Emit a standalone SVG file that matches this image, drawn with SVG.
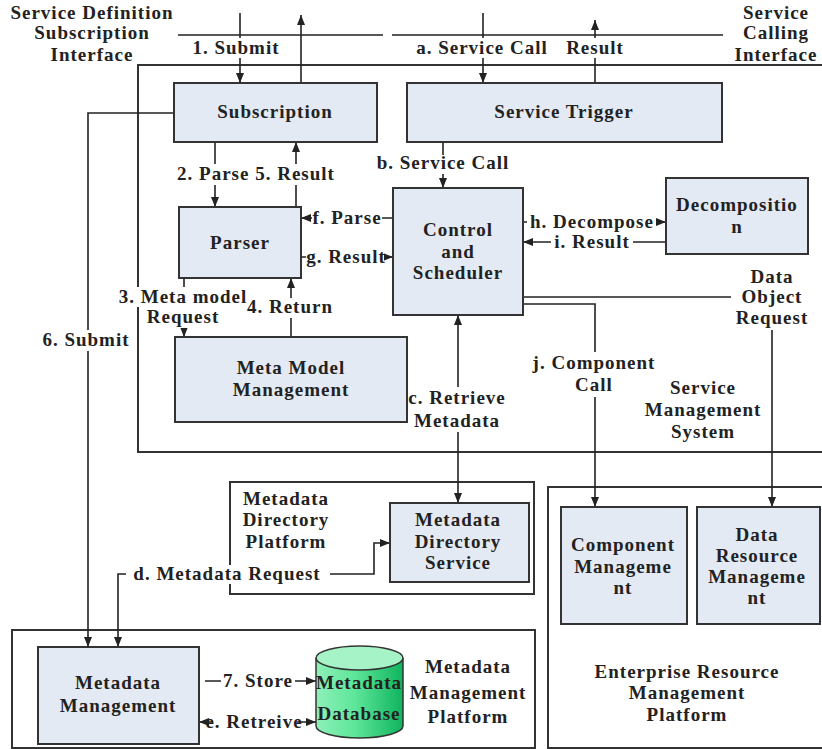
<svg xmlns="http://www.w3.org/2000/svg" width="822" height="749" viewBox="0 0 822 749">
<style>
.t{font-family:'Liberation Serif','Times New Roman',Times,serif;font-weight:700;font-size:19px;letter-spacing:1px;fill:#222;text-anchor:middle}
.n{fill:#e4eaf4;stroke:#333;stroke-width:2}
.box{fill:none;stroke:#333;stroke-width:2}
.c{fill:none;stroke:#222;stroke-width:1.6}
.bg{fill:#fff}
</style>
<defs>
<marker id="a" viewBox="0 0 10 8" refX="10" refY="4" markerWidth="10" markerHeight="8" markerUnits="userSpaceOnUse" orient="auto-start-reverse">
<path d="M0,0 L10,4 L0,8 z" fill="#222"/>
</marker>
<linearGradient id="g" x1="0" y1="0" x2="1" y2="0">
<stop offset="0" stop-color="#8ef0b8"/>
<stop offset="0.45" stop-color="#5ee69a"/>
<stop offset="1" stop-color="#0fb45e"/>
</linearGradient>
</defs>
<rect width="822" height="749" fill="#fff"/>

<g id="containers">
<path class="box" d="M823,65 H138 V452 H823"/>
<rect class="box" x="230" y="482" width="304" height="112"/>
<path class="box" d="M823,487 H548 V748 H823"/>
<rect class="box" x="12" y="630" width="523" height="118"/>
<path class="c" d="M178,35 H383 M392,35 H723"/>
</g>

<g id="connectors">
<path class="c" d="M240,13 V83" marker-end="url(#a)"/>
<path class="c" d="M301,83 V15" marker-end="url(#a)"/>
<path class="c" d="M483,13 V83" marker-end="url(#a)"/>
<path class="c" d="M595,83 V20" marker-end="url(#a)"/>
<path class="c" d="M215,142 V207" marker-end="url(#a)"/>
<path class="c" d="M296,207 V142" marker-end="url(#a)"/>
<path class="c" d="M443,142 V188" marker-end="url(#a)"/>
<path class="c" d="M393,218 H301" marker-end="url(#a)"/>
<path class="c" d="M301,257 H393" marker-end="url(#a)"/>
<path class="c" d="M523,222 H666" marker-end="url(#a)"/>
<path class="c" d="M666,242 H523" marker-end="url(#a)"/>
<path class="c" d="M184,278 V337" marker-end="url(#a)"/>
<path class="c" d="M291,337 V278" marker-end="url(#a)"/>
<path class="c" d="M174,113 H88 V647" marker-end="url(#a)"/>
<path class="c" d="M118,647 V574 H374 V543 H390" marker-start="url(#a)" marker-end="url(#a)"/>
<path class="c" d="M458,315 V503" marker-start="url(#a)" marker-end="url(#a)"/>
<path class="c" d="M523,304 H595 V507" marker-end="url(#a)"/>
<path class="c" d="M523,297 H772 V507" marker-end="url(#a)"/>
<path class="c" d="M205,681 H316" marker-end="url(#a)"/>
<path class="c" d="M199,722 H316" marker-start="url(#a)" marker-end="url(#a)"/>
</g>

<g id="label-bg">
<rect class="bg" x="186" y="38" width="100" height="20"/>
<rect class="bg" x="415" y="38" width="135" height="20"/>
<rect class="bg" x="565" y="38" width="61" height="20"/>
<rect class="bg" x="176" y="164" width="161" height="21"/>
<rect class="bg" x="375" y="155" width="136" height="19"/>
<rect class="bg" x="312" y="209" width="70" height="19"/>
<rect class="bg" x="306" y="248" width="78" height="19"/>
<rect class="bg" x="527" y="212" width="129" height="19"/>
<rect class="bg" x="551" y="233" width="82" height="19"/>
<rect class="bg" x="731" y="265" width="82" height="65"/>
<rect class="bg" x="116" y="287" width="134" height="20"/>
<rect class="bg" x="145" y="307" width="77" height="21"/>
<rect class="bg" x="246" y="298" width="89" height="20"/>
<rect class="bg" x="41" y="330" width="91" height="21"/>
<rect class="bg" x="528" y="352" width="133" height="22"/>
<rect class="bg" x="572" y="374" width="46" height="23"/>
<rect class="bg" x="406" y="387" width="103" height="22"/>
<rect class="bg" x="415" y="409" width="86" height="23"/>
<rect class="bg" x="126" y="565" width="204" height="19"/>
<rect class="bg" x="221" y="672" width="74" height="19"/>
<rect class="bg" x="211" y="713" width="86" height="19"/>
</g>

<g id="labels" class="t">
<text x="92" y="19">Service Definition</text>
<text x="92" y="39">Subscription</text>
<text x="92" y="61">Interface</text>
<text x="776" y="19">Service</text>
<text x="776" y="39">Calling</text>
<text x="776" y="61">Interface</text>
<text x="236" y="54">1. Submit</text>
<text x="482" y="54">a. Service Call</text>
<text x="595" y="54">Result</text>
<text x="256" y="180">2. Parse 5. Result</text>
<text x="443" y="169">b. Service Call</text>
<text x="347" y="224">f. Parse</text>
<text x="346" y="263">g. Result</text>
<text x="592" y="228">h. Decompose</text>
<text x="592" y="248">i. Result</text>
<text x="772" y="283">Data</text>
<text x="772" y="303">Object</text>
<text x="772" y="324">Request</text>
<text x="183" y="303">3. Meta model</text>
<text x="183" y="323">Request</text>
<text x="290" y="313">4. Return</text>
<text x="86" y="346">6. Submit</text>
<text x="594" y="369">j. Component</text>
<text x="594" y="391">Call</text>
<text x="457" y="404">c. Retrieve</text>
<text x="457" y="427">Metadata</text>
<text x="703" y="394">Service</text>
<text x="703" y="416">Management</text>
<text x="703" y="438">System</text>
<text x="286" y="505">Metadata</text>
<text x="286" y="526">Directory</text>
<text x="286" y="548">Platform</text>
<text x="227" y="580">d. Metadata Request</text>
<text x="687" y="678">Enterprise Resource</text>
<text x="687" y="699">Management</text>
<text x="687" y="721">Platform</text>
<text x="258" y="687">7. Store</text>
<text x="254" y="728">e. Retreive</text>
<text x="468" y="673">Metadata</text>
<text x="468" y="699">Management</text>
<text x="468" y="723">Platform</text>
</g>

<g id="subscription">
<rect class="n" x="174" y="83" width="203" height="59"/>
<text class="t" x="275" y="118">Subscription</text>
</g>
<g id="service-trigger">
<rect class="n" x="407" y="83" width="315" height="59"/>
<text class="t" x="564" y="118">Service Trigger</text>
</g>
<g id="parser">
<rect class="n" x="179" y="207" width="122" height="71"/>
<text class="t" x="240" y="249">Parser</text>
</g>
<g id="control-scheduler">
<rect class="n" x="393" y="188" width="130" height="127"/>
<text class="t" x="458" y="236">Control</text>
<text class="t" x="458" y="258">and</text>
<text class="t" x="458" y="279">Scheduler</text>
</g>
<g id="decomposition">
<rect class="n" x="666" y="178" width="142" height="76"/>
<text class="t" x="737" y="211">Decompositio</text>
<text class="t" x="737" y="233">n</text>
</g>
<g id="meta-model-management">
<rect class="n" x="175" y="337" width="232" height="85"/>
<text class="t" x="291" y="374">Meta Model</text>
<text class="t" x="291" y="396">Management</text>
</g>
<g id="metadata-directory-service">
<rect class="n" x="390" y="503" width="139" height="79"/>
<text class="t" x="458" y="526">Metadata</text>
<text class="t" x="458" y="548">Directory</text>
<text class="t" x="458" y="569">Service</text>
</g>
<g id="component-management">
<rect class="n" x="561" y="507" width="126" height="117"/>
<text class="t" x="623" y="551">Component</text>
<text class="t" x="623" y="573">Manageme</text>
<text class="t" x="623" y="594">nt</text>
</g>
<g id="data-resource-management">
<rect class="n" x="697" y="507" width="123" height="117"/>
<text class="t" x="757" y="541">Data</text>
<text class="t" x="757" y="562">Resource</text>
<text class="t" x="757" y="583">Manageme</text>
<text class="t" x="757" y="604">nt</text>
</g>
<g id="metadata-management">
<rect class="n" x="38" y="647" width="161" height="97"/>
<text class="t" x="118" y="689">Metadata</text>
<text class="t" x="118" y="712">Management</text>
</g>
<g id="metadata-database">
<path d="M316,658 V726 A43.5,12 0 0 0 403,726 V658" fill="url(#g)" stroke="#333" stroke-width="1.5"/>
<ellipse cx="359.5" cy="658" rx="43.5" ry="12" fill="#a6f3c8" stroke="#333" stroke-width="1.5"/>
<text class="t" x="359" y="689">Metadata</text>
<text class="t" x="359" y="720">Database</text>
</g>
</svg>
